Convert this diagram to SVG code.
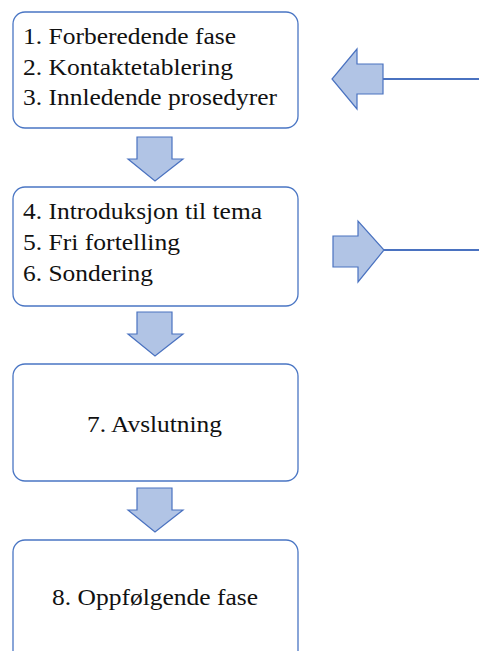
<svg xmlns="http://www.w3.org/2000/svg" width="479" height="651" viewBox="0 0 479 651">
<defs>
<style>
.box{fill:#fff;stroke:#4a76c4;stroke-width:1.3}
.arr{fill:#b1c4e5;stroke:#4a72c0;stroke-width:1.2;stroke-linejoin:miter}
.ln{stroke:#4a72c0;stroke-width:2;fill:none}
text{font-family:"Liberation Serif","Times New Roman",serif;font-size:23px;fill:#111}
</style>
</defs>
<rect width="479" height="651" fill="#fff"/>
<g id="node1">
<rect class="box" x="13" y="12" width="285" height="116" rx="12"/>
<text x="23" y="44" textLength="213" lengthAdjust="spacingAndGlyphs">1. Forberedende fase</text>
<text x="23" y="75" textLength="210" lengthAdjust="spacingAndGlyphs">2. Kontaktetablering</text>
<text x="23" y="105" textLength="254" lengthAdjust="spacingAndGlyphs">3. Innledende prosedyrer</text>
</g>
<g id="node2">
<rect class="box" x="13" y="187" width="285" height="119" rx="12"/>
<text x="23" y="219" textLength="239" lengthAdjust="spacingAndGlyphs">4. Introduksjon til tema</text>
<text x="23" y="250" textLength="157" lengthAdjust="spacingAndGlyphs">5. Fri fortelling</text>
<text x="23" y="281" textLength="130" lengthAdjust="spacingAndGlyphs">6. Sondering</text>
</g>
<g id="node3">
<rect class="box" x="13" y="364" width="285" height="117" rx="12"/>
<text x="87" y="432" textLength="135" lengthAdjust="spacingAndGlyphs">7. Avslutning</text>
</g>
<g id="node4">
<rect class="box" x="13" y="540" width="285" height="130" rx="12"/>
<text x="52" y="605" textLength="206" lengthAdjust="spacingAndGlyphs">8. Oppfølgende fase</text>
</g>
<g id="connectors">
<path class="arr" d="M137,137 H172 V159 H183 L155,181 L128,159 H137 Z"/>
<path class="arr" d="M137,312 H172 V334 H183 L155,356 L128,334 H137 Z"/>
<path class="arr" d="M137,488 H172 V510 H183 L155,532 L128,510 H137 Z"/>
<line class="ln" x1="383" y1="79" x2="479" y2="79"/>
<path class="arr" d="M383,64 V94 H357 V109 L332,79 L357,49 V64 Z"/>
<line class="ln" x1="384" y1="250" x2="479" y2="250"/>
<path class="arr" d="M333,236 H358 V221 L384,250 L358,282 V267 H333 Z"/>
</g>
</svg>
